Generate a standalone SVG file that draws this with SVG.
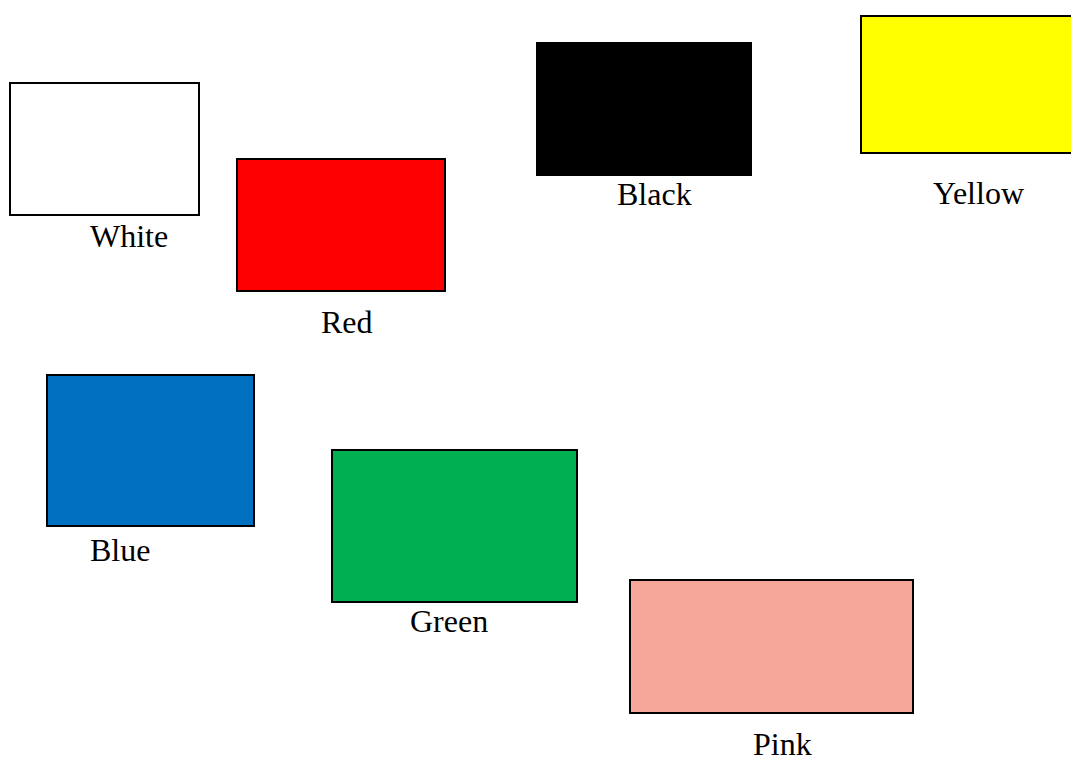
<svg xmlns="http://www.w3.org/2000/svg" width="1071" height="760" viewBox="0 0 1071 760">
<style>
.box{stroke:#000;stroke-width:2}
.lbl{font-family:"Liberation Serif","Times New Roman",serif;font-size:32px;fill:#000}
</style>
<rect x="0" y="0" width="1071" height="760" fill="#fff"/>
<g id="white">
<rect class="box" x="10" y="83" width="189" height="132" fill="#fff"/>
<text class="lbl" x="90" y="247">White</text>
</g>
<g id="red">
<rect class="box" x="237" y="159" width="208" height="132" fill="#f00"/>
<text class="lbl" x="321" y="333">Red</text>
</g>
<g id="black">
<rect x="536" y="42" width="216" height="134" fill="#000"/>
<text class="lbl" x="617" y="205">Black</text>
</g>
<g id="yellow">
<rect class="box" x="861" y="16" width="220" height="137" fill="#ff0"/>
<text class="lbl" x="933" y="204">Yellow</text>
</g>
<g id="blue">
<rect class="box" x="47" y="375" width="207" height="151" fill="#0070c0"/>
<text class="lbl" x="90" y="561">Blue</text>
</g>
<g id="green">
<rect class="box" x="332" y="450" width="245" height="152" fill="#00b050"/>
<text class="lbl" x="410" y="632">Green</text>
</g>
<g id="pink">
<rect class="box" x="630" y="580" width="283" height="133" fill="#f7a799"/>
<text class="lbl" x="753" y="755">Pink</text>
</g>
<g id="connectors"></g>
</svg>
